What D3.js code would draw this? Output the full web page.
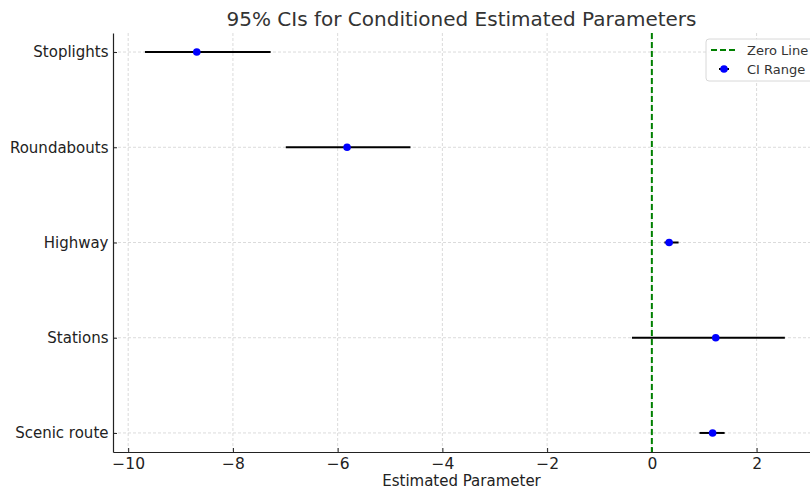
<!DOCTYPE html>
<html>
<head>
<meta charset="utf-8">
<script src="https://cdn.jsdelivr.net/npm/d3@7"></script>
<style>
  body { margin: 0; background: #fff; }
  text { font-family: "DejaVu Sans", sans-serif; }
</style>
</head>
<body>
<div id="chart"></div>
<script>
'use strict';

const categories = ['Stoplights', 'Roundabouts', 'Highway', 'Stations', 'Scenic route'];
const estimates = [-8.69, -5.82, 0.33, 1.22, 1.16];
const lowerCI = [-9.68, -6.99, 0.24, -0.38, 0.91];
const upperCI = [-7.28, -4.61, 0.51, 2.54, 1.39];
const xTicks = [-10, -8, -6, -4, -2, 0, 2];

const width = 810,
    height = 492,
    margin = {top: 33, right: 0, bottom: 40, left: 113};

const svg = d3.select('#chart').append('svg')
    .attr('width', width)
    .attr('height', height);

const x = d3.scaleLinear()
    .domain([-10.29, 3.02])
    .range([margin.left, width - margin.right]);

const y = d3.scaleLinear()
    .domain([-0.2, categories.length - 0.8])
    .range([margin.top, height - margin.bottom]);

// grid
const grid = svg.append('g');
grid.selectAll('.vgrid')
    .data(xTicks)
    .enter().append('line')
    .attr('x1', (d) => x(d)).attr('x2', (d) => x(d))
    .attr('y1', margin.top).attr('y2', height - margin.bottom)
    .attr('stroke', '#d2d2d2')
    .attr('stroke-width', 0.8)
    .attr('stroke-dasharray', '3,2');
grid.selectAll('.hgrid')
    .data(categories)
    .enter().append('line')
    .attr('x1', margin.left).attr('x2', width - margin.right)
    .attr('y1', (d, i) => y(i)).attr('y2', (d, i) => y(i))
    .attr('stroke', '#d2d2d2')
    .attr('stroke-width', 0.8)
    .attr('stroke-dasharray', '3,2');

// axes (ticks point inward, like the original)
const xAxis = svg.append('g')
    .attr('transform', 'translate(0,' + (height - margin.bottom) + ')')
    .call(d3.axisBottom(x).tickValues(xTicks).tickSizeInner(-4).tickSizeOuter(0).tickPadding(5.5)
        .tickFormat((d) => d < 0 ? '\u2212' + Math.abs(d) : d));
xAxis.select('.domain').attr('stroke', '#222').attr('stroke-width', 1.2);
xAxis.selectAll('.tick line').attr('stroke', '#222');
xAxis.selectAll('text').attr('font-size', 15.5).attr('fill', '#222');

const yAxis = svg.append('g')
    .attr('transform', 'translate(' + margin.left + ',0)')
    .call(d3.axisLeft(y).tickValues(d3.range(categories.length)).tickSizeInner(-4).tickSizeOuter(0).tickPadding(4.5)
        .tickFormat((d) => categories[d]));
yAxis.select('.domain').attr('stroke', '#222').attr('stroke-width', 1.2);
yAxis.selectAll('.tick line').attr('stroke', '#222');
yAxis.selectAll('text').attr('font-size', 15).attr('fill', '#222');

// zero line
svg.append('line')
    .attr('x1', x(0)).attr('x2', x(0))
    .attr('y1', margin.top).attr('y2', height - margin.bottom)
    .attr('stroke', '#008000')
    .attr('stroke-width', 2)
    .attr('stroke-dasharray', '6,3');

// CI bars
svg.selectAll('.ci')
    .data(categories)
    .enter().append('line')
    .attr('class', 'ci')
    .attr('x1', (d, i) => x(lowerCI[i]))
    .attr('x2', (d, i) => x(upperCI[i]))
    .attr('y1', (d, i) => y(i))
    .attr('y2', (d, i) => y(i))
    .attr('stroke', '#000')
    .attr('stroke-width', 2);

svg.selectAll('.pt')
    .data(categories)
    .enter().append('circle')
    .attr('class', 'pt')
    .attr('cx', (d, i) => x(estimates[i]))
    .attr('cy', (d, i) => y(i))
    .attr('r', 3.8)
    .attr('fill', '#0000ff');

// title and label
svg.append('text')
    .attr('x', (margin.left + width - margin.right) / 2)
    .attr('y', 26)
    .attr('text-anchor', 'middle')
    .attr('font-size', 20)
    .attr('fill', '#333')
    .text('95% CIs for Conditioned Estimated Parameters');

svg.append('text')
    .attr('x', (margin.left + width - margin.right) / 2)
    .attr('y', 486)
    .attr('text-anchor', 'middle')
    .attr('font-size', 15)
    .attr('fill', '#222')
    .text('Estimated Parameter');

// legend
const legend = svg.append('g').attr('transform', 'translate(706,39)');
legend.append('rect')
    .attr('width', 110).attr('height', 42)
    .attr('rx', 3)
    .attr('fill', '#fff').attr('fill-opacity', 0.85)
    .attr('stroke', '#d8d8d8');
legend.append('line')
    .attr('x1', 5).attr('x2', 31).attr('y1', 11).attr('y2', 11)
    .attr('stroke', '#008000').attr('stroke-width', 2)
    .attr('stroke-dasharray', '6,3');
legend.append('line')
    .attr('x1', 13).attr('x2', 23).attr('y1', 30).attr('y2', 30)
    .attr('stroke', '#000').attr('stroke-width', 2);
legend.append('circle')
    .attr('cx', 18).attr('cy', 30).attr('r', 3.8)
    .attr('fill', '#0000ff');
legend.append('text')
    .attr('x', 41).attr('y', 15.5)
    .attr('font-size', 13).attr('fill', '#333')
    .text('Zero Line');
legend.append('text')
    .attr('x', 41).attr('y', 34.5)
    .attr('font-size', 13).attr('fill', '#333')
    .text('CI Range');
</script>
</body>
</html>
